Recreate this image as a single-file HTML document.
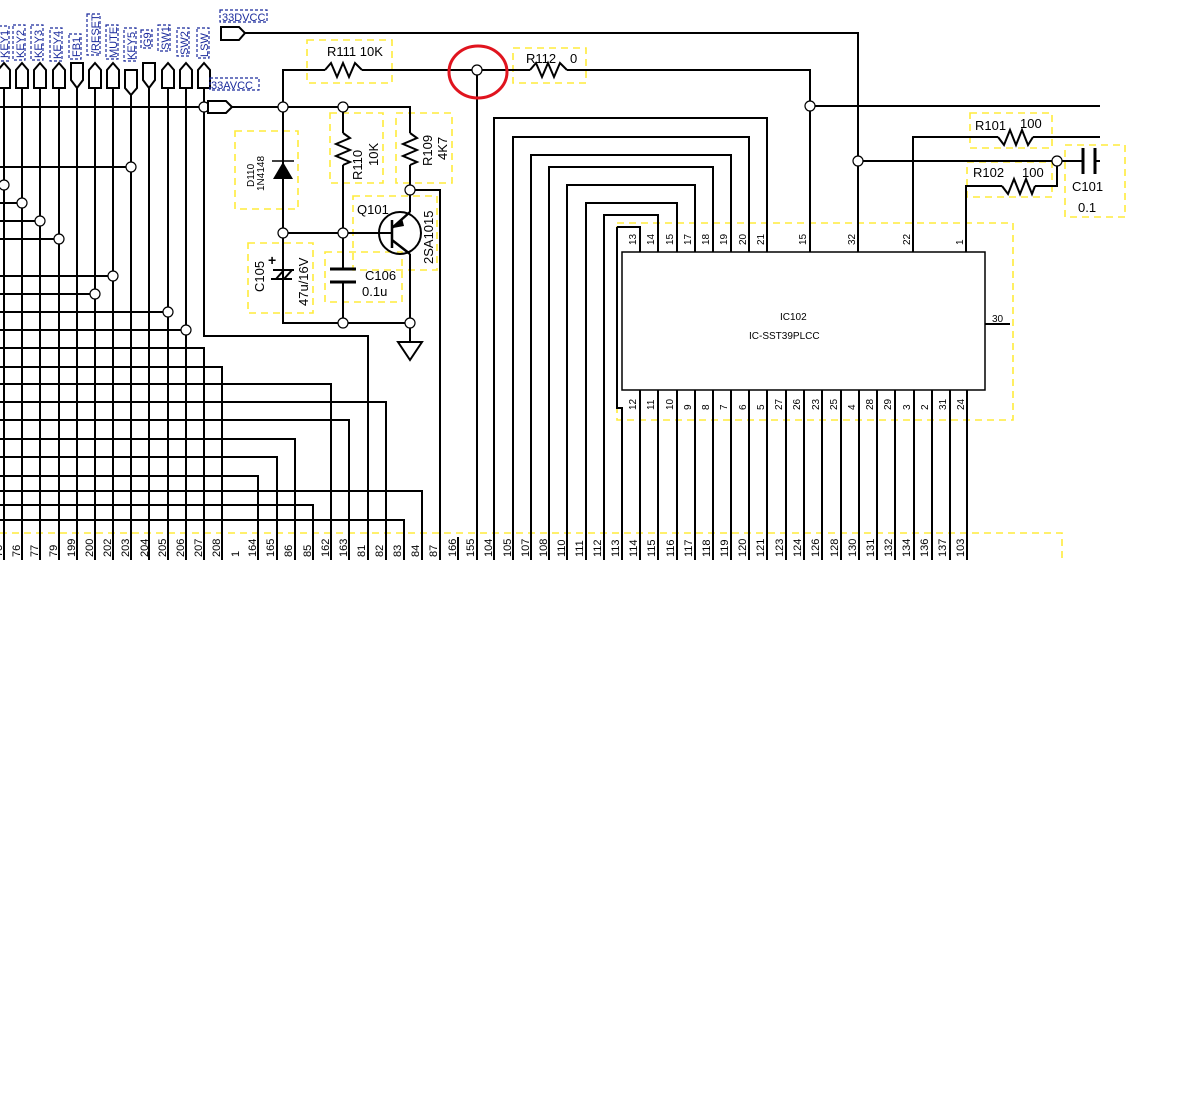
<!DOCTYPE html>
<html><head><meta charset="utf-8"><style>
html,body{margin:0;padding:0;background:#fff;width:1200px;height:1100px;overflow:hidden}
svg{display:block}
text{font-family:"Liberation Sans",sans-serif}
</style></head><body>
<svg width="1200" height="1100" viewBox="0 0 1200 1100" xmlns="http://www.w3.org/2000/svg">
<rect width="1200" height="1100" fill="#fff"/>
<g fill="none" stroke="#ffeb3b" stroke-width="1.6" stroke-dasharray="7,5">
<path d="M0 533 H1062 V560"/>
<rect x="617" y="223" width="396" height="197"/>
<rect x="307" y="40" width="85" height="43"/>
<rect x="513" y="48" width="73" height="35"/>
<rect x="235" y="131" width="63" height="78"/>
<rect x="330" y="113" width="53" height="70"/>
<rect x="396" y="113" width="56" height="70"/>
<rect x="353" y="196" width="84" height="74"/>
<rect x="248" y="243" width="65" height="70"/>
<rect x="325" y="252" width="77" height="50"/>
<rect x="970" y="113" width="82" height="35"/>
<rect x="967" y="162" width="85" height="35"/>
<rect x="1065" y="145" width="60" height="72"/>
</g>
<g fill="none" stroke="#000" stroke-width="2">
<!-- left grid verticals from pins -->
<path d="M4 88V560M22 88V560M40 88V560M59 88V560M77 80V560M95 88V560M113 88V560M131 95V560M149 80V560M168 88V560M186 88V560M204 88V336H368V560"/>
<path d="M0 348H204V560M0 367H222V560M0 384H331V560M0 402H386V560M0 420H349V560M0 439H295V560M0 457H277V560M0 476H258V560M0 491H422V560M0 505H313V560M0 520H404V560"/>
<path d="M0 167H131M0 185H4M0 203H22M0 221H40M0 239H59M0 276H113M0 294H95M0 312H168M0 330H186"/>
<path d="M0 107H208M232 107H410V133M410 165V212M410 254V342"/>
<path d="M245 33H858V252"/>
<path d="M283 107V70H325M362 70H530M567 70H810V252"/>
<path d="M810 106H1100"/>
<path d="M477 70V560"/>
<path d="M458 537V560"/>
<path d="M410 190H440V560"/>
<path d="M283 107V323H410M343 107V133M343 165V269M343 282V323M283 233H392"/>
<!-- resistors -->
<polyline points="325,70 331,63 337,77 343,63 349,77 355,63 362,70"/>
<polyline points="530,70 536,63 542,77 548,63 554,77 560,63 567,70"/>
<polyline points="343,133 350,138 336,144 350,150 336,156 350,162 343,165"/>
<polyline points="410,133 417,138 403,144 417,150 403,156 417,162 410,165"/>
<!-- IC loops -->
<path d="M494 560V118H767V252M513 560V137H749V252M531 560V155H731V252M549 560V167H713V252M567 560V185H695V252M586 560V203H677V252M604 560V215H658V252M617 227H640V252M617 227V408H622V560"/>
<path d="M640 390V560M658 390V560M677 390V560M695 390V560M713 390V560M731 390V560M749 390V560M767 390V560M786 390V560M804 390V560M822 390V560M841 390V560M859 390V560M877 390V560M895 390V560M914 390V560M932 390V560M950 390V560M967 390V560"/>
<path d="M985 324H1010"/>
<path d="M913 252V137H998M1033 137H1100"/>
<polyline points="998,137 1004,145 1010,130 1016,145 1022,130 1028,145 1033,137"/>
<path d="M966 252V186H1002M1035 186H1057V161"/>
<polyline points="1002,186 1008,194 1014,179 1020,194 1026,179 1032,194 1035,186"/>
<path d="M858 161H1082"/>
<path d="M1083 148V174M1095 148V174" stroke-width="3"/>
<path d="M1095 161H1100"/>
</g>
<rect x="622" y="252" width="363" height="138" fill="#fff" stroke="#000" stroke-width="1.5"/>
<!-- junction circles -->
<g fill="#fff" stroke="#000" stroke-width="1.2">
<circle cx="131" cy="167" r="5"/><circle cx="4" cy="185" r="5"/><circle cx="22" cy="203" r="5"/><circle cx="40" cy="221" r="5"/><circle cx="59" cy="239" r="5"/><circle cx="113" cy="276" r="5"/><circle cx="95" cy="294" r="5"/><circle cx="168" cy="312" r="5"/><circle cx="186" cy="330" r="5"/>
<circle cx="204" cy="107" r="5"/><circle cx="283" cy="107" r="5"/><circle cx="343" cy="107" r="5"/><circle cx="410" cy="190" r="5"/><circle cx="283" cy="233" r="5"/><circle cx="343" cy="233" r="5"/><circle cx="343" cy="323" r="5"/><circle cx="410" cy="323" r="5"/><circle cx="477" cy="70" r="5"/><circle cx="810" cy="106" r="5"/><circle cx="858" cy="161" r="5"/><circle cx="1057" cy="161" r="5"/>
</g>
<ellipse cx="478" cy="72" rx="29" ry="26" fill="none" stroke="#e0141e" stroke-width="3"/>
<!-- diode -->
<polygon points="273,179 293,179 283,162" fill="#000"/>
<path d="M272 161H294" stroke="#000" stroke-width="1.5"/>
<!-- caps -->
<path d="M330 269H356M330 282H356" stroke="#000" stroke-width="3"/>
<path d="M273 270H294M271 279H292M276 279L284 270M284 279L292 270" stroke="#000" stroke-width="2" fill="none"/>
<text x="268" y="265" font-size="14" font-weight="bold">+</text>
<!-- transistor -->
<circle cx="400" cy="233" r="21" fill="none" stroke="#000" stroke-width="2"/>
<path d="M392 220V248M392 228L410 212M392 240L410 254" stroke="#000" stroke-width="2.5" fill="none"/>
<polygon points="393,228 402,218 404,226" fill="#000"/>
<!-- ground -->
<polygon points="398,342 422,342 410,360" fill="#fff" stroke="#000" stroke-width="2"/>
<!-- connectors -->
<g fill="#fff" stroke="#000" stroke-width="2">
<polygon points="221,27 239,27 245,33 239,40 221,40"/>
<polygon points="208,101 226,101 232,107 226,113 208,113"/>
<polygon points="-2,88 -2,70 4,63 10,70 10,88"/>
<polygon points="16,88 16,70 22,63 28,70 28,88"/>
<polygon points="34,88 34,70 40,63 46,70 46,88"/>
<polygon points="53,88 53,70 59,63 65,70 65,88"/>
<polygon points="71,63 83,63 83,80 77,88 71,80"/>
<polygon points="89,88 89,70 95,63 101,70 101,88"/>
<polygon points="107,88 107,70 113,63 119,70 119,88"/>
<polygon points="125,70 137,70 137,88 131,95 125,88"/>
<polygon points="143,63 155,63 155,80 149,88 143,80"/>
<polygon points="162,88 162,70 168,63 174,70 174,88"/>
<polygon points="180,88 180,70 186,63 192,70 192,88"/>
<polygon points="198,88 198,70 204,63 210,70 210,88"/>
</g>
<!-- blue labels -->
<g fill="none" stroke="#1a2a9c" stroke-width="1.2" stroke-dasharray="3,2">
<rect x="220" y="10" width="47" height="12"/><rect x="210" y="78" width="49" height="12"/>
<rect x="-1" y="26" width="10" height="35"/><rect x="13" y="25" width="12" height="35"/><rect x="31" y="25" width="12" height="35"/><rect x="50" y="28" width="12" height="33"/><rect x="69" y="34" width="12" height="25"/><rect x="87" y="14" width="13" height="41"/><rect x="106" y="25" width="12" height="34"/><rect x="124" y="28" width="12" height="33"/><rect x="141" y="30" width="11" height="18"/><rect x="158" y="25" width="12" height="26"/><rect x="177" y="28" width="12" height="28"/><rect x="197" y="28" width="12" height="30"/>
</g>
<g fill="#1a2a9c" font-size="11">
<text x="222" y="21">33DVCC</text><text x="211" y="89">33AVCC</text>
<g transform="translate(8,58) rotate(-90)"><text>KEY1</text></g>
<g transform="translate(24,58) rotate(-90)"><text>KEY2</text></g>
<g transform="translate(42,58) rotate(-90)"><text>KEY3</text></g>
<g transform="translate(61,59) rotate(-90)"><text>KEY4</text></g>
<g transform="translate(80,57) rotate(-90)"><text>FB1</text></g>
<g transform="translate(99,54) rotate(-90)"><text>/RESET</text></g>
<g transform="translate(117,58) rotate(-90)"><text>MUTE</text></g>
<g transform="translate(135,60) rotate(-90)"><text>KEY5</text></g>
<g transform="translate(151,47) rotate(-90)"><text>G9</text></g>
<g transform="translate(169,50) rotate(-90)"><text>SW1</text></g>
<g transform="translate(188,55) rotate(-90)"><text>SW2</text></g>
<g transform="translate(208,57) rotate(-90)"><text>LSW</text></g>
</g>
<!-- component labels -->
<g fill="#000" font-size="13">
<text x="327" y="56">R111 10K</text>
<text x="526" y="63">R112</text><text x="570" y="63">0</text>
<text x="357" y="214">Q101</text>
<text x="365" y="280">C106</text><text x="362" y="296">0.1u</text>
<text x="975" y="130">R101</text><text x="1020" y="128">100</text>
<text x="973" y="177">R102</text><text x="1022" y="177">100</text>
<text x="1072" y="191">C101</text><text x="1078" y="212">0.1</text>
<g transform="translate(362,180) rotate(-90)"><text>R110</text></g>
<g transform="translate(378,166) rotate(-90)"><text>10K</text></g>
<g transform="translate(432,166) rotate(-90)"><text>R109</text></g>
<g transform="translate(447,160) rotate(-90)"><text>4K7</text></g>
<g transform="translate(433,264) rotate(-90)"><text>2SA1015</text></g>
<g transform="translate(264,292) rotate(-90)"><text>C105</text></g>
<g transform="translate(308,306) rotate(-90)"><text>47u/16V</text></g>
</g>
<g fill="#000" font-size="10">
<g transform="translate(254,187) rotate(-90)"><text>D110</text></g>
<g transform="translate(264,191) rotate(-90)"><text>1N4148</text></g>
<text x="780" y="320">IC102</text><text x="749" y="339">IC-SST39PLCC</text>
<text x="992" y="322">30</text>
</g>
<!-- IC pin labels -->
<g fill="#000" font-size="10">
<g transform="translate(636,245) rotate(-90)"><text>13</text></g>
<g transform="translate(654,245) rotate(-90)"><text>14</text></g>
<g transform="translate(673,245) rotate(-90)"><text>15</text></g>
<g transform="translate(691,245) rotate(-90)"><text>17</text></g>
<g transform="translate(709,245) rotate(-90)"><text>18</text></g>
<g transform="translate(727,245) rotate(-90)"><text>19</text></g>
<g transform="translate(746,245) rotate(-90)"><text>20</text></g>
<g transform="translate(764,245) rotate(-90)"><text>21</text></g>
<g transform="translate(806,245) rotate(-90)"><text>15</text></g>
<g transform="translate(855,245) rotate(-90)"><text>32</text></g>
<g transform="translate(910,245) rotate(-90)"><text>22</text></g>
<g transform="translate(963,245) rotate(-90)"><text>1</text></g>
<g transform="translate(636,410) rotate(-90)"><text>12</text></g>
<g transform="translate(654,410) rotate(-90)"><text>11</text></g>
<g transform="translate(673,410) rotate(-90)"><text>10</text></g>
<g transform="translate(691,410) rotate(-90)"><text>9</text></g>
<g transform="translate(709,410) rotate(-90)"><text>8</text></g>
<g transform="translate(727,410) rotate(-90)"><text>7</text></g>
<g transform="translate(746,410) rotate(-90)"><text>6</text></g>
<g transform="translate(764,410) rotate(-90)"><text>5</text></g>
<g transform="translate(782,410) rotate(-90)"><text>27</text></g>
<g transform="translate(800,410) rotate(-90)"><text>26</text></g>
<g transform="translate(819,410) rotate(-90)"><text>23</text></g>
<g transform="translate(837,410) rotate(-90)"><text>25</text></g>
<g transform="translate(855,410) rotate(-90)"><text>4</text></g>
<g transform="translate(873,410) rotate(-90)"><text>28</text></g>
<g transform="translate(891,410) rotate(-90)"><text>29</text></g>
<g transform="translate(910,410) rotate(-90)"><text>3</text></g>
<g transform="translate(928,410) rotate(-90)"><text>2</text></g>
<g transform="translate(946,410) rotate(-90)"><text>31</text></g>
<g transform="translate(964,410) rotate(-90)"><text>24</text></g>
</g>
<!-- bottom bus labels -->
<g fill="#000" font-size="11">
<g transform="translate(2,557) rotate(-90)"><text>75</text></g>
<g transform="translate(20,557) rotate(-90)"><text>76</text></g>
<g transform="translate(38,557) rotate(-90)"><text>77</text></g>
<g transform="translate(57,557) rotate(-90)"><text>79</text></g>
<g transform="translate(75,557) rotate(-90)"><text>199</text></g>
<g transform="translate(93,557) rotate(-90)"><text>200</text></g>
<g transform="translate(111,557) rotate(-90)"><text>202</text></g>
<g transform="translate(129,557) rotate(-90)"><text>203</text></g>
<g transform="translate(148,557) rotate(-90)"><text>204</text></g>
<g transform="translate(166,557) rotate(-90)"><text>205</text></g>
<g transform="translate(184,557) rotate(-90)"><text>206</text></g>
<g transform="translate(202,557) rotate(-90)"><text>207</text></g>
<g transform="translate(220,557) rotate(-90)"><text>208</text></g>
<g transform="translate(239,557) rotate(-90)"><text>1</text></g>
<g transform="translate(256,557) rotate(-90)"><text>164</text></g>
<g transform="translate(274,557) rotate(-90)"><text>165</text></g>
<g transform="translate(292,557) rotate(-90)"><text>86</text></g>
<g transform="translate(311,557) rotate(-90)"><text>85</text></g>
<g transform="translate(329,557) rotate(-90)"><text>162</text></g>
<g transform="translate(347,557) rotate(-90)"><text>163</text></g>
<g transform="translate(365,557) rotate(-90)"><text>81</text></g>
<g transform="translate(383,557) rotate(-90)"><text>82</text></g>
<g transform="translate(401,557) rotate(-90)"><text>83</text></g>
<g transform="translate(419,557) rotate(-90)"><text>84</text></g>
<g transform="translate(437,557) rotate(-90)"><text>87</text></g>
<g transform="translate(456,557) rotate(-90)"><text>166</text></g>
<g transform="translate(474,557) rotate(-90)"><text>155</text></g>
<g transform="translate(492,557) rotate(-90)"><text>104</text></g>
<g transform="translate(511,557) rotate(-90)"><text>105</text></g>
<g transform="translate(529,557) rotate(-90)"><text>107</text></g>
<g transform="translate(547,557) rotate(-90)"><text>108</text></g>
<g transform="translate(565,557) rotate(-90)"><text>110</text></g>
<g transform="translate(583,557) rotate(-90)"><text>111</text></g>
<g transform="translate(601,557) rotate(-90)"><text>112</text></g>
<g transform="translate(619,557) rotate(-90)"><text>113</text></g>
<g transform="translate(637,557) rotate(-90)"><text>114</text></g>
<g transform="translate(655,557) rotate(-90)"><text>115</text></g>
<g transform="translate(674,557) rotate(-90)"><text>116</text></g>
<g transform="translate(692,557) rotate(-90)"><text>117</text></g>
<g transform="translate(710,557) rotate(-90)"><text>118</text></g>
<g transform="translate(728,557) rotate(-90)"><text>119</text></g>
<g transform="translate(746,557) rotate(-90)"><text>120</text></g>
<g transform="translate(764,557) rotate(-90)"><text>121</text></g>
<g transform="translate(783,557) rotate(-90)"><text>123</text></g>
<g transform="translate(801,557) rotate(-90)"><text>124</text></g>
<g transform="translate(819,557) rotate(-90)"><text>126</text></g>
<g transform="translate(838,557) rotate(-90)"><text>128</text></g>
<g transform="translate(856,557) rotate(-90)"><text>130</text></g>
<g transform="translate(874,557) rotate(-90)"><text>131</text></g>
<g transform="translate(892,557) rotate(-90)"><text>132</text></g>
<g transform="translate(910,557) rotate(-90)"><text>134</text></g>
<g transform="translate(928,557) rotate(-90)"><text>136</text></g>
<g transform="translate(946,557) rotate(-90)"><text>137</text></g>
<g transform="translate(964,557) rotate(-90)"><text>103</text></g>
</g>
</svg>
</body></html>
